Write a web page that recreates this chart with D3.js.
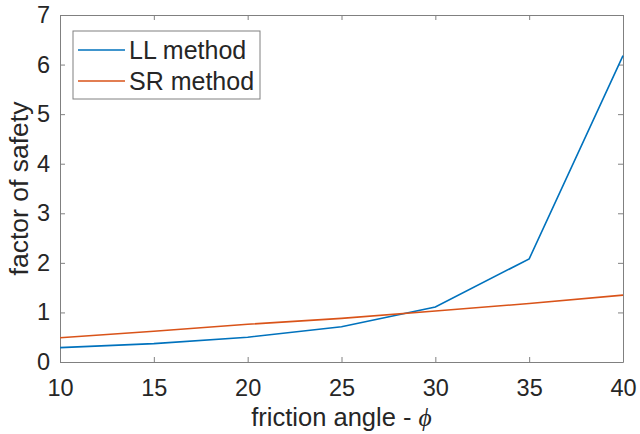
<!DOCTYPE html>
<html>
<head>
<meta charset="utf-8">
<script src="https://cdn.jsdelivr.net/npm/d3@7"></script>
<style>
  body { margin: 0; background: #fff; }
  svg { display: block; font-family: "Liberation Sans", Arial, sans-serif; }
</style>
</head>
<body>
<div id="chart"></div>
<script>
// friction angle (deg)
const angles = [10, 15, 20, 25, 30, 35, 40];
// factor of safety
const llMethod = [0.29, 0.37, 0.50, 0.71, 1.11, 2.08, 6.18];
const srMethod = [0.49, 0.62, 0.76, 0.88, 1.03, 1.18, 1.35];
const xTicks = [10, 15, 20, 25, 30, 35, 40];
const yTicks = [0, 1, 2, 3, 4, 5, 6, 7];
const seriesNames = ['LL method', 'SR method'];

const W = 640, H = 434;
const margin = { top: 15, right: 17, bottom: 72, left: 60 };
const width = W - margin.left - margin.right;
const height = H - margin.top - margin.bottom;

const colors = ['#0072BD', '#D95319'];
const axisColor = '#262626';
const boxColor = '#808080';
const fontFam = '"Liberation Sans", Arial, sans-serif';

const svg = d3.select('#chart')
  .append('svg')
  .attr('width', W)
  .attr('height', H);

const g = svg.append('g')
  .attr('transform', `translate(${margin.left},${margin.top})`);

const x = d3.scaleLinear().domain([10, 40]).range([0, width]);
const y = d3.scaleLinear().domain([0, 7]).range([height, 0]);

// axes with inward ticks on all four sides
const tickLen = 5;
const styleAxis = sel => {
  sel.attr('font-family', fontFam);
  sel.select('.domain').attr('stroke', boxColor);
  sel.selectAll('.tick line').attr('stroke', boxColor);
  sel.selectAll('.tick text')
    .attr('fill', axisColor)
    .style('font-size', '23.5px');
};

g.append('g')
  .attr('transform', `translate(0,${height})`)
  .call(d3.axisBottom(x).tickValues(xTicks).tickSize(-tickLen).tickSizeOuter(0)
    .tickPadding(17).tickFormat(d3.format('d')))
  .call(styleAxis);

g.append('g')
  .call(d3.axisTop(x).tickValues(xTicks).tickSize(-tickLen).tickSizeOuter(0).tickFormat(''))
  .call(styleAxis);

g.append('g')
  .call(d3.axisLeft(y).tickValues(yTicks).tickSize(-tickLen).tickSizeOuter(0)
    .tickPadding(10).tickFormat(d3.format('d')))
  .call(styleAxis);

g.append('g')
  .attr('transform', `translate(${width},0)`)
  .call(d3.axisRight(y).tickValues(yTicks).tickSize(-tickLen).tickSizeOuter(0).tickFormat(''))
  .call(styleAxis);

// lines
const line = d3.line()
  .x((d, i) => x(angles[i]))
  .y(d => y(d));

[llMethod, srMethod].forEach((vals, k) => {
  g.append('path')
    .datum(vals)
    .attr('fill', 'none')
    .attr('stroke', colors[k])
    .attr('stroke-width', 1.6)
    .attr('d', line);
});

// legend
const legend = g.append('g')
  .attr('transform', 'translate(13,16)');

legend.append('rect')
  .attr('width', 187)
  .attr('height', 68)
  .attr('fill', '#fff')
  .attr('stroke', boxColor)
  .attr('stroke-width', 1);

seriesNames.forEach((name, i) => {
  const row = legend.append('g')
    .attr('transform', `translate(0,${19 + i * 31})`);
  row.append('line')
    .attr('x1', 5)
    .attr('x2', 52)
    .attr('stroke', colors[i])
    .attr('stroke-width', 1.6);
  row.append('text')
    .attr('x', 56)
    .attr('y', 9)
    .attr('fill', axisColor)
    .style('font-size', '25px')
    .text(name);
});

// axis labels
const xl = svg.append('text')
  .attr('x', margin.left + width / 2)
  .attr('y', 426)
  .attr('text-anchor', 'middle')
  .attr('fill', axisColor)
  .style('font-size', '25.5px');
xl.append('tspan').text('friction angle - ');
xl.append('tspan')
  .style('font-family', '"Liberation Serif", "DejaVu Serif", serif')
  .style('font-style', 'italic')
  .text('\u03D5');

svg.append('text')
  .attr('transform', `translate(28,${margin.top + height / 2}) rotate(-90)`)
  .attr('text-anchor', 'middle')
  .attr('fill', axisColor)
  .style('font-size', '26.5px')
  .text('factor of safety');
</script>
</body>
</html>
